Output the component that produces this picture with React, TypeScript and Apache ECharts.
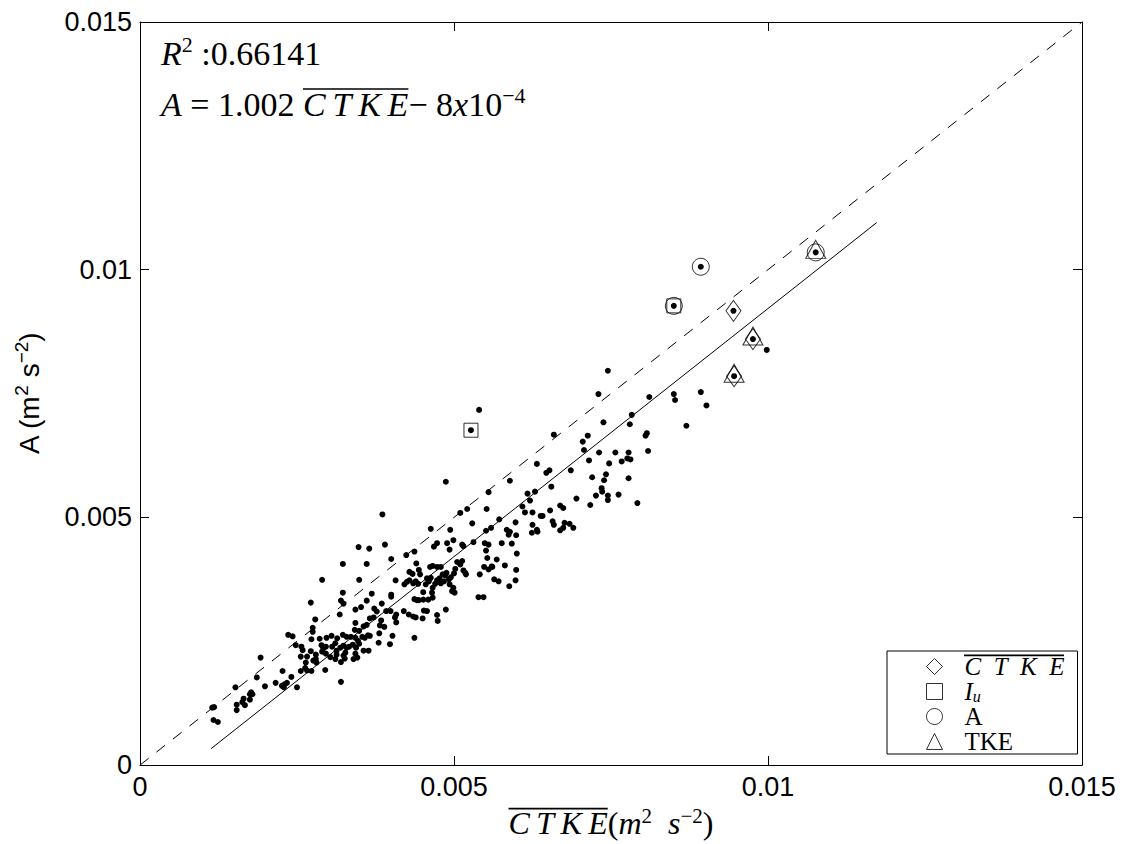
import React, { useEffect, useRef } from 'react';
import * as echarts from 'echarts';

// ---- data (x = CTKE-bar, y = A), m^2 s^-2 ----
const samplePoints: number[][] = [
  [0.00323,0.00406],[0.00361,0.00406],[0.00400,0.00416],[0.00290,0.00374],[0.00349,0.00374],[0.00407,0.00373],
  [0.00323,0.00348],[0.00369,0.00346],[0.00400,0.00344],[0.00400,0.00340],[0.00272,0.00328],[0.00320,0.00332],
  [0.00324,0.00326],[0.00361,0.00332],[0.00385,0.00326],[0.00343,0.00314],[0.00352,0.00319],[0.00373,0.00316],
  [0.00377,0.00310],[0.00392,0.00311],[0.00399,0.00311],[0.00408,0.00304],[0.00318,0.00304],[0.00366,0.00296],
  [0.00372,0.00298],[0.00279,0.00294],[0.00343,0.00287],[0.00384,0.00292],[0.00406,0.00298],[0.00408,0.00288],
  [0.00361,0.00283],[0.00275,0.00277],[0.00275,0.00269],[0.00382,0.00282],[0.00389,0.00279],[0.00356,0.00280],
  [0.00342,0.00273],[0.00349,0.00271],[0.00381,0.00266],[0.00402,0.00261],[0.00236,0.00263],[0.00243,0.00260],
  [0.00273,0.00254],[0.00286,0.00255],[0.00297,0.00257],[0.00305,0.00261],[0.00314,0.00256],[0.00323,0.00263],
  [0.00329,0.00259],[0.00336,0.00259],[0.00343,0.00257],[0.00347,0.00251],[0.00354,0.00259],[0.00358,0.00257],
  [0.00363,0.00262],[0.00366,0.00261],[0.00380,0.00247],[0.00398,0.00244],[0.00248,0.00242],[0.00257,0.00239],
  [0.00259,0.00232],[0.00272,0.00230],[0.00289,0.00242],[0.00292,0.00236],[0.00296,0.00239],[0.00290,0.00229],
  [0.00311,0.00246],[0.00306,0.00239],[0.00313,0.00231],[0.00319,0.00237],[0.00324,0.00241],[0.00329,0.00237],
  [0.00333,0.00239],[0.00339,0.00243],[0.00344,0.00237],[0.00349,0.00245],[0.00356,0.00231],[0.00364,0.00231],
  [0.00256,0.00219],[0.00266,0.00219],[0.00280,0.00223],[0.00296,0.00225],[0.00303,0.00218],[0.00313,0.00223],
  [0.00324,0.00221],[0.00327,0.00227],[0.00343,0.00225],[0.00346,0.00217],[0.00192,0.00217],[0.00264,0.00207],
  [0.00276,0.00211],[0.00280,0.00214],[0.00281,0.00207],[0.00311,0.00214],[0.00320,0.00208],[0.00326,0.00215],
  [0.00340,0.00214],[0.00263,0.00196],[0.00273,0.00190],[0.00266,0.00191],[0.00256,0.00190],[0.00295,0.00192],
  [0.00227,0.00190],[0.00186,0.00177],[0.00241,0.00178],[0.00216,0.00166],[0.00226,0.00160],[0.00230,0.00163],
  [0.00234,0.00166],[0.00229,0.00157],[0.00250,0.00157],[0.00199,0.00159],[0.00320,0.00168],[0.00152,0.00157],
  [0.00177,0.00147],[0.00179,0.00143],[0.00175,0.00143],[0.00165,0.00134],[0.00163,0.00127],[0.00175,0.00132],
  [0.00154,0.00122],[0.00167,0.00121],[0.00154,0.00111],[0.00115,0.00116],[0.00118,0.00117],[0.00117,0.00091],
  [0.00124,0.00087],
  [0.00527,0.00676],[0.00487,0.00572],[0.00555,0.00551],[0.00510,0.00509],[0.00521,0.00517],[0.00552,0.00517],
  [0.00386,0.00506],[0.00463,0.00477],[0.00494,0.00475],[0.00529,0.00488],[0.00572,0.00496],[0.00559,0.00479],
  [0.00551,0.00473],[0.00348,0.00440],[0.00365,0.00437],[0.00390,0.00445],[0.00424,0.00424],[0.00437,0.00431],
  [0.00468,0.00441],[0.00473,0.00448],[0.00489,0.00448],[0.00493,0.00435],[0.00499,0.00454],[0.00515,0.00442],
  [0.00513,0.00445],[0.00531,0.00450],[0.00549,0.00448],[0.00555,0.00445],[0.00551,0.00433],[0.00553,0.00418],
  [0.00560,0.00401],[0.00568,0.00415],[0.00421,0.00365],[0.00425,0.00370],[0.00429,0.00373],[0.00435,0.00367],
  [0.00439,0.00371],[0.00443,0.00366],[0.00440,0.00407],[0.00429,0.00390],[0.00434,0.00386],[0.00444,0.00394],
  [0.00446,0.00385],[0.00462,0.00400],[0.00466,0.00402],[0.00473,0.00400],[0.00479,0.00400],[0.00457,0.00377],
  [0.00463,0.00378],[0.00460,0.00371],[0.00455,0.00365],[0.00466,0.00358],[0.00470,0.00366],[0.00473,0.00373],
  [0.00477,0.00377],[0.00482,0.00385],[0.00486,0.00383],[0.00488,0.00388],[0.00492,0.00375],[0.00495,0.00379],
  [0.00500,0.00387],[0.00502,0.00396],[0.00505,0.00410],[0.00510,0.00405],[0.00513,0.00412],[0.00515,0.00393],
  [0.00518,0.00388],[0.00519,0.00385],[0.00479,0.00367],[0.00484,0.00371],[0.00493,0.00365],[0.00499,0.00358],
  [0.00497,0.00351],[0.00501,0.00348],[0.00451,0.00349],[0.00451,0.00334],[0.00459,0.00334],[0.00465,0.00348],
  [0.00466,0.00338],[0.00441,0.00333],[0.00444,0.00333],[0.00437,0.00335],[0.00420,0.00311],[0.00428,0.00304],
  [0.00435,0.00300],[0.00439,0.00298],[0.00452,0.00312],[0.00457,0.00311],[0.00450,0.00296],[0.00473,0.00303],
  [0.00474,0.00291],[0.00487,0.00314],[0.00539,0.00339],[0.00547,0.00339],[0.00541,0.00385],[0.00548,0.00400],
  [0.00564,0.00375],[0.00571,0.00371],[0.00561,0.00400],[0.00555,0.00395],[0.00437,0.00257],
  [0.00540,0.00717],[0.00745,0.00796],[0.00730,0.00749],[0.00589,0.00574],[0.00632,0.00608],[0.00647,0.00590],
  [0.00652,0.00595],[0.00659,0.00667],[0.00655,0.00562],[0.00686,0.00595],[0.00705,0.00653],[0.00713,0.00665],
  [0.00707,0.00636],[0.00715,0.00615],[0.00731,0.00631],[0.00738,0.00692],[0.00783,0.00707],[0.00780,0.00688],
  [0.00811,0.00743],[0.00757,0.00631],[0.00767,0.00613],[0.00776,0.00619],[0.00781,0.00617],[0.00778,0.00631],
  [0.00747,0.00609],[0.00807,0.00670],[0.00805,0.00665],[0.00809,0.00634],[0.00720,0.00581],[0.00742,0.00587],
  [0.00739,0.00575],[0.00735,0.00559],[0.00736,0.00552],[0.00726,0.00544],[0.00717,0.00525],[0.00745,0.00544],
  [0.00745,0.00535],[0.00762,0.00546],[0.00778,0.00579],[0.00792,0.00529],[0.00695,0.00538],[0.00617,0.00548],
  [0.00621,0.00534],[0.00629,0.00552],[0.00625,0.00510],[0.00638,0.00503],[0.00641,0.00503],[0.00653,0.00514],
  [0.00669,0.00524],[0.00674,0.00519],[0.00657,0.00492],[0.00659,0.00485],[0.00669,0.00474],[0.00674,0.00479],
  [0.00676,0.00489],[0.00684,0.00487],[0.00690,0.00479],[0.00625,0.00485],[0.00632,0.00475],[0.00633,0.00471],
  [0.00624,0.00469],[0.00609,0.00522],[0.00613,0.00510],[0.00598,0.00490],[0.00599,0.00464],[0.00600,0.00427],
  [0.00599,0.00394],[0.00598,0.00373],[0.00588,0.00361],[0.00584,0.00475],[0.00589,0.00471],[0.00587,0.00465],
  [0.00592,0.00447],[0.00576,0.00448],[0.00581,0.00403],
  [0.00850,0.00749],[0.00852,0.00737],[0.00893,0.00753],[0.00902,0.00726],[0.00870,0.00685],[0.00946,0.00785],
  [0.00998,0.00838],[0.00893,0.01006],[0.00850,0.00927],[0.00945,0.00917],[0.00976,0.00860],[0.01076,0.01035],
];

// highlighted maxima
const diamondPoints = [[0.00945,0.00917],[0.00946,0.00785],[0.00976,0.00860]];
const squarePoints = [[0.00527,0.00676],[0.00850,0.00927]];
const circlePoints = [[0.00893,0.01006],[0.00850,0.00927],[0.01076,0.01035]];
const trianglePoints = [[0.00946,0.00785],[0.00976,0.00860],[0.01076,0.01035]];

// reference lines
const oneToOneLine = [[0, 0],[0.015, 0.015]];
const fitLine = [[0.00113, 0.00033],[0.01173, 0.01095]];

// axis
const axisMin = 0;
const axisMax = 0.015;
const axisStep = 0.005;

// texts
const r2Text = '0.66141';
const fitSlopeText = '1.002';
const fitInterceptText = '8';
const fitExpText = '\u22124';
const legendNames = ['CTKE', 'Iu', 'A', 'TKE'];

const SERIF = 'Liberation Serif';
const SANS = 'Liberation Sans';
const CTKE = ['C', 'T', 'K', 'E'].join('\u2009');
const CTKE_LG = ['C', 'T', 'K', 'E'].join('\u2002');

function measure(text: string, font: string) {
  const c = document.createElement('canvas').getContext('2d')!;
  c.font = font;
  return c.measureText(text).width;
}

export default function App() {
  const ref = useRef<HTMLDivElement>(null);
  useEffect(() => {
    if (!ref.current) return;
    const chart = echarts.init(ref.current, undefined, { renderer: 'svg' });

    const gridL = 140, gridT = 22, gridR = 41, gridB = 76;
    const W = 1123, H = 844;

    // annotation text (top-left)
    const aFs = 34;
    const supFs = 22;
    const richMath: any = {
      it: { fontFamily: SERIF, fontStyle: 'italic', fontSize: aFs, lineHeight: 40, color: '#000' },
      rm: { fontFamily: SERIF, fontSize: aFs, lineHeight: 40, color: '#000' },
      sup: { fontFamily: SERIF, fontSize: supFs, lineHeight: 22, verticalAlign: 'top', color: '#000' },
    };
    const ann1Top = 33;
    const ann2Top = 84;
    const annLeft = 161;
    const eqPrefix = ' = ' + fitSlopeText + ' ';
    const ol2x1 = annLeft + measure('A', `italic ${aFs}px "${SERIF}"`) + measure(eqPrefix, `${aFs}px "${SERIF}"`);
    const ol2x2 = ol2x1 + measure(CTKE, `italic ${aFs}px "${SERIF}"`);
    const ol2y = ann2Top + 20 - 0.3245 * aFs - 4;

    // x axis name
    const xFs = 32, xSup = 21;
    const xNameGap = 37;
    const xNameW =
      measure(CTKE, `italic ${xFs}px "${SERIF}"`) +
      measure('(', `${xFs}px "${SERIF}"`) +
      measure('m', `italic ${xFs}px "${SERIF}"`) +
      measure('2', `${xSup}px "${SERIF}"`) +
      measure('\u2002s', `italic ${xFs}px "${SERIF}"`) +
      measure('\u22122', `${xSup}px "${SERIF}"`) +
      measure(')', `${xFs}px "${SERIF}"`);
    const plotMid = gridL + (W - gridL - gridR) / 2;
    const olXx1 = plotMid - xNameW / 2;
    const olXx2 = olXx1 + measure(CTKE, `italic ${xFs}px "${SERIF}"`);
    const olXy = H - gridB + xNameGap + 18 - 0.3245 * xFs - 4;

    // legend
    const lgLeft = 887, lgTop = 651;
    const lgFs = 25, lgLine = 25;
    const lgPadTop = 3, lgPadLeft = 39, lgIcon = 16, lgTextPad = 17;
    const lgTextX = lgLeft + lgPadLeft + lgIcon + 5 + lgTextPad;
    const lgCtkeW = measure(CTKE_LG, `italic ${lgFs}px "${SERIF}"`);
    const lgPadRight = Math.max(4, 1077 - lgTextX - lgCtkeW);
    const lgCenter0 = lgTop + lgPadTop + lgLine / 2;
    const olLy = lgCenter0 - 0.3245 * lgFs - 3;

    const legendText: Record<string, string> = {
      CTKE: `{it|${CTKE_LG}}`,
      Iu: '{it|I}{sub|u}',
      A: '{rm|A}',
      TKE: '{rm|TKE}',
    };

    const hollow = { color: 'rgba(255,255,255,0)', borderColor: '#000', borderWidth: 1 };

    const axisCommon = {
      min: axisMin, max: axisMax, interval: axisStep,
      axisLine: { show: true, onZero: false, lineStyle: { color: '#000', width: 1 } },
      axisTick: { show: true, inside: true, length: 9, lineStyle: { color: '#000', width: 1 } },
      splitLine: { show: false },
    };
    const tickLabel = { color: '#000', fontFamily: SANS, fontSize: 27, margin: 8 };

    chart.setOption({
      animation: false,
      backgroundColor: '#fff',
      grid: { left: gridL, top: gridT, right: gridR, bottom: gridB, containLabel: false },
      xAxis: [
        {
          type: 'value', position: 'bottom', ...axisCommon,
          axisLabel: { ...tickLabel },
          name: `{ol|${CTKE}}{rm|(}{it|m}{sup|2}{it|\u2002s}{sup|\u22122}{rm|)}`,
          nameLocation: 'middle',
          nameGap: xNameGap,
          nameTextStyle: {
            rich: {
              ol: { fontFamily: SERIF, fontStyle: 'italic', fontSize: xFs, lineHeight: 36, color: '#000' },
              it: { fontFamily: SERIF, fontStyle: 'italic', fontSize: xFs, lineHeight: 36, color: '#000' },
              rm: { fontFamily: SERIF, fontSize: xFs, lineHeight: 36, color: '#000' },
              sup: { fontFamily: SERIF, fontSize: xSup, lineHeight: 21, verticalAlign: 'top', color: '#000' },
            },
          },
        },
        { type: 'value', position: 'top', ...axisCommon, axisLabel: { show: false } },
      ],
      yAxis: [
        {
          type: 'value', position: 'left', ...axisCommon,
          axisLabel: { ...tickLabel },
          name: '{rm|A (m}{sup|2}{rm| s}{sup|\u22122}{rm|)}',
          nameLocation: 'middle',
          nameRotate: 90,
          nameGap: 94,
          nameTextStyle: {
            rich: {
              rm: { fontFamily: SANS, fontSize: 28, lineHeight: 34, color: '#000' },
              sup: { fontFamily: SANS, fontSize: 19, lineHeight: 19, verticalAlign: 'top', color: '#000' },
            },
          },
        },
        { type: 'value', position: 'right', ...axisCommon, axisLabel: { show: false } },
      ],
      legend: {
        data: legendNames,
        orient: 'vertical',
        left: lgLeft,
        top: lgTop,
        itemWidth: lgIcon,
        itemHeight: lgIcon,
        itemGap: 0,
        padding: [lgPadTop, lgPadRight, 0, lgPadLeft],
        borderColor: '#000',
        borderWidth: 1,
        backgroundColor: '#fff',
        selectedMode: false,
        itemStyle: { color: 'rgba(255,255,255,0)', borderColor: '#000', borderWidth: 1 },
        formatter: (name: string) => legendText[name],
        textStyle: {
          padding: [0, 0, 0, lgTextPad],
          lineHeight: lgLine,
          fontSize: lgFs,
          height: lgLine,
          rich: {
            it: { fontFamily: SERIF, fontStyle: 'italic', fontSize: lgFs, lineHeight: lgLine, color: '#000' },
            rm: { fontFamily: SERIF, fontSize: lgFs, lineHeight: lgLine, color: '#000' },
            sub: { fontFamily: SERIF, fontStyle: 'italic', fontSize: 16, lineHeight: 8, verticalAlign: 'bottom', color: '#000' },
          },
        },
      },
      series: [
        { type: 'line', data: oneToOneLine, symbol: 'none', silent: true,
          lineStyle: { color: '#000', width: 1, type: [11, 10] } },
        { type: 'line', data: fitLine, symbol: 'none', silent: true,
          lineStyle: { color: '#000', width: 1, type: 'solid' } },
        { type: 'scatter', name: 'samples', data: samplePoints, symbol: 'circle', symbolSize: 6,
          itemStyle: { color: '#000', opacity: 1 }, silent: true },
        { type: 'scatter', name: 'CTKE', data: diamondPoints, symbol: 'diamond', symbolSize: [15, 21],
          itemStyle: hollow, silent: true, z: 3 },
        { type: 'scatter', name: 'Iu', data: squarePoints, symbol: 'rect', symbolSize: 14,
          itemStyle: hollow, silent: true, z: 3 },
        { type: 'scatter', name: 'A', data: circlePoints, symbol: 'circle', symbolSize: 17,
          itemStyle: hollow, silent: true, z: 3 },
        { type: 'scatter', name: 'TKE', data: trianglePoints, symbol: 'triangle', symbolSize: [20, 18],
          symbolOffset: [0, -3], itemStyle: hollow, silent: true, z: 3 },
      ],
      graphic: [
        {
          type: 'text', x: annLeft, y: ann1Top, z: 10,
          style: { text: `{it|R}{sup|2}{rm| :${r2Text}}`, rich: richMath, align: 'left', verticalAlign: 'top' },
        },
        {
          type: 'text', x: annLeft, y: ann2Top, z: 10,
          style: {
            text: `{it|A}{rm|${eqPrefix}}{it|${CTKE}}{rm|\u2212 ${fitInterceptText}}{it|x}{rm|10}{sup|${fitExpText}}`,
            rich: richMath, align: 'left', verticalAlign: 'top',
          },
        },
        { type: 'line', z: 10, shape: { x1: ol2x1, y1: ol2y, x2: ol2x2, y2: ol2y }, style: { stroke: '#000', lineWidth: 1.6 } },
        { type: 'line', z: 10, shape: { x1: olXx1, y1: olXy, x2: olXx2, y2: olXy }, style: { stroke: '#000', lineWidth: 1.6 } },
        { type: 'line', z: 100, shape: { x1: lgTextX, y1: olLy, x2: lgTextX + lgCtkeW, y2: olLy }, style: { stroke: '#000', lineWidth: 1.6 } },
      ],
    });

    return () => chart.dispose();
  }, []);

  return (
    <div
      ref={ref}
      style={{ position: 'fixed', left: 0, top: 0, width: 1123, height: 844, background: '#fff' }}
    />
  );
}
